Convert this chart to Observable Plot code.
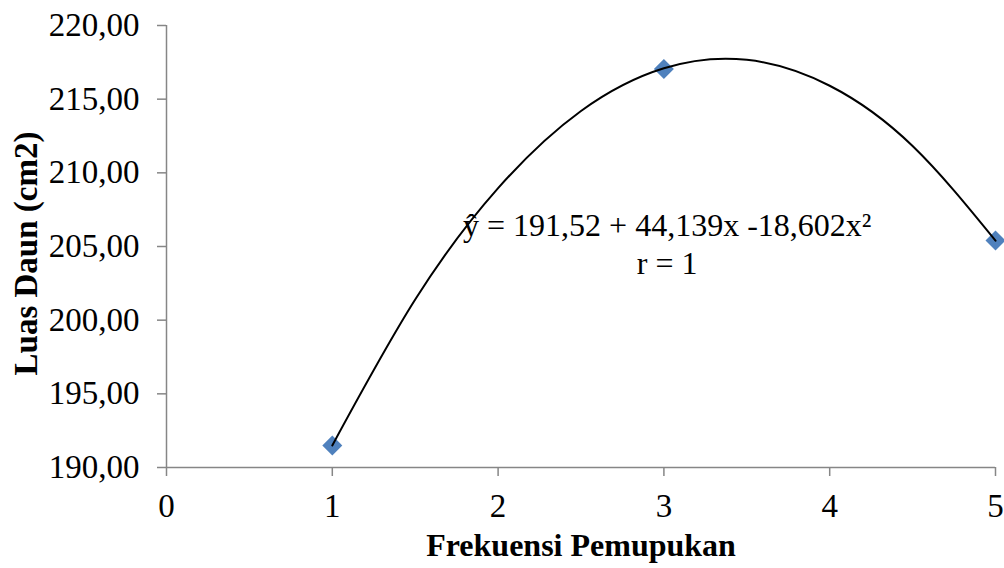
<!DOCTYPE html>
<html>
<head>
<meta charset="utf-8">
<script src="https://cdn.jsdelivr.net/npm/d3@7"></script>
<script src="https://cdn.jsdelivr.net/npm/@observablehq/plot@0.6"></script>
<style>
  html, body { margin: 0; padding: 0; background: #fff; }
</style>
</head>
<body>
<div id="chart"></div>
<script>
// Observed data points
const frekuensi = [1, 3, 5];
const luasDaun = [191.50, 217.05, 205.40];

// Trendline (polynomial order 2)
const trendX = [1, 1.5, 2, 2.5, 3, 3.5, 4, 4.5, 5];
const trendY = [191.50, 201.40, 208.96, 214.20, 217.10, 217.67, 215.91, 211.82, 205.40];

// Axis ticks
const xTicks = [0, 1, 2, 3, 4, 5];
const yTicks = [190, 195, 200, 205, 210, 215, 220];

// Labels
const xTitle = "Frekuensi Pemupukan";
const yTitle = "Luas Daun (cm2)";
const equationLines = ["ŷ = 191,52 + 44,139x -18,602x²", "r = 1"];

const points = frekuensi.map((x, i) => ({x, y: luasDaun[i]}));
const trend = trendX.map((x, i) => ({x, y: trendY[i]}));
const fmt = d => d.toFixed(2).replace(".", ",");

const axisGray = "#868686";
const font = "'Liberation Serif', 'Times New Roman', serif";

const chart = Plot.plot({
  width: 1004,
  height: 568,
  marginLeft: 166,
  marginRight: 9,
  marginTop: 25,
  marginBottom: 101,
  style: {fontFamily: font, fontSize: "33px", color: "black", background: "white"},
  x: {domain: [0, 5]},
  y: {domain: [190, 220]},
  marks: [
    Plot.ruleX([0], {stroke: axisGray, strokeWidth: 1.5}),
    Plot.ruleY([190], {stroke: axisGray, strokeWidth: 1.5}),
    Plot.axisY({ticks: yTicks, tickFormat: fmt, tickSize: 9, tickPadding: 18, stroke: axisGray, fill: "black", fontSize: 33, label: null, strokeWidth: 1.5}),
    Plot.axisX({ticks: xTicks, tickFormat: d => String(d), tickSize: 9, tickPadding: 17, stroke: axisGray, fill: "black", fontSize: 33, label: null, strokeWidth: 1.5}),
    Plot.dot(points, {x: "x", y: "y", symbol: "diamond2", r: 9, fill: "#4F81BD", stroke: "none"}),
    Plot.line(trend, {x: "x", y: "y", curve: "natural", stroke: "black", strokeWidth: 2}),
    Plot.text([equationLines.join("\n")], {x: 3.02, y: 205.27, text: d => d, fontSize: 32, lineHeight: 1.19, fill: "black", textAnchor: "middle", lineAnchor: "middle"}),
    Plot.text([xTitle], {frameAnchor: "bottom", dy: 88, text: d => d, fontSize: 32, fontWeight: "bold", fill: "black"}),
    Plot.text([yTitle], {frameAnchor: "left", dx: -140, dy: 7, rotate: -90, textAnchor: "middle", text: d => d, fontSize: 33, fontWeight: "bold", fill: "black"})
  ]
});
document.getElementById("chart").appendChild(chart);
</script>
</body>
</html>
